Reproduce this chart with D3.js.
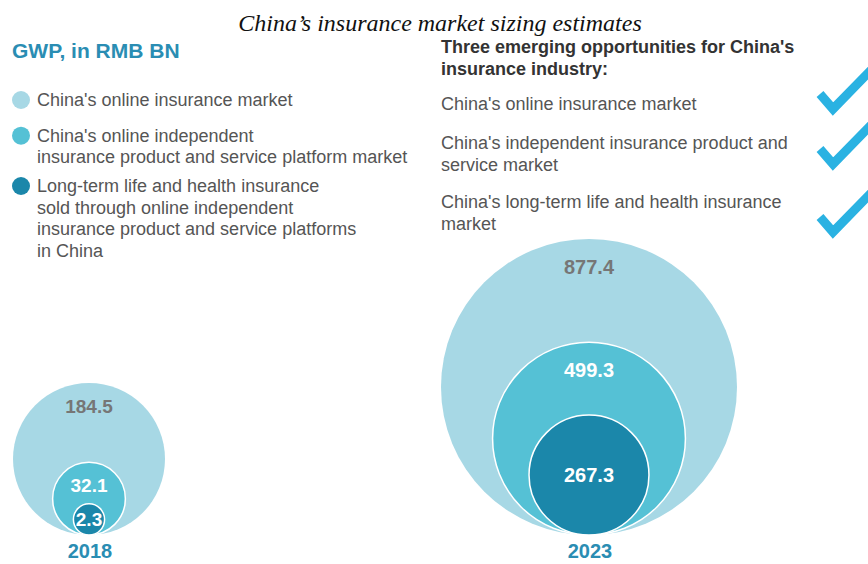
<!DOCTYPE html>
<html lang="en">
<head>
    <meta charset="UTF-8">
    <title>China's insurance market sizing estimates</title>
    <script src="https://cdn.jsdelivr.net/npm/d3@7/dist/d3.min.js"></script>
    <style>
        body { margin: 0; background: #fff; }
        svg { display: block; font-family: 'Liberation Sans', Arial, sans-serif; }
        .legend text, .opps text { fill: #555; font-size: 18px; }
    </style>
</head>
<body>
<script>
    // data
    const years = ['2018', '2023'];
    const values2018 = [184.5, 32.1, 2.3];
    const values2023 = [877.4, 499.3, 267.3];
    const categories = [
        ["China's online insurance market"],
        ["China's online independent", 'insurance product and service platform market'],
        ['Long-term life and health insurance', 'sold through online independent',
         'insurance product and service platforms', 'in China']
    ];
    const opportunities = [
        ["China's online insurance market"],
        ["China's independent insurance product and", 'service market'],
        ["China's long-term life and health insurance", 'market']
    ];

    const width = 868;
    const height = 564;
    const colors = ['#a7d8e5', '#55c1d5', '#1b87aa'];
    const teal = '#2a8db3';

    const svg = d3.select('body')
        .append('svg')
        .attr('width', width)
        .attr('height', height);

    // title
    svg.append('text')
        .attr('x', 440)
        .attr('y', 31)
        .attr('text-anchor', 'middle')
        .style('font-family', "'Liberation Serif', 'Times New Roman', serif")
        .style('font-style', 'italic')
        .style('font-size', '24px')
        .attr('fill', '#111')
        .text('China’s insurance market sizing estimates');

    svg.append('text')
        .attr('x', 12)
        .attr('y', 58)
        .style('font-size', '21px')
        .style('font-weight', 'bold')
        .attr('fill', teal)
        .text('GWP, in RMB BN');

    // legend
    const lineH = 21.7;
    const legendTop = [106, 141.7, 192];
    const legend = svg.append('g').attr('class', 'legend')
        .selectAll('g')
        .data(categories)
        .enter()
        .append('g')
        .attr('transform', (d, i) => `translate(0,${legendTop[i]})`);

    legend.append('circle')
        .attr('cx', 21)
        .attr('cy', -6)
        .attr('r', 9)
        .attr('fill', (d, i) => colors[i]);

    legend.selectAll('text')
        .data(d => d)
        .enter()
        .append('text')
        .attr('x', 37)
        .attr('y', (d, i) => i * lineH)
        .text(d => d);

    // right panel
    const head = svg.append('text')
        .attr('x', 441)
        .attr('y', 53)
        .style('font-size', '18px')
        .style('font-weight', 'bold')
        .attr('fill', '#333');
    head.append('tspan').attr('x', 441).text("Three emerging opportunities for China's");
    head.append('tspan').attr('x', 441).attr('dy', 22).text('insurance industry:');

    const oppTop = [110, 149, 208];
    const checkY = [113, 168, 236];
    const opps = svg.append('g').attr('class', 'opps')
        .selectAll('g')
        .data(opportunities)
        .enter()
        .append('g');

    opps.selectAll('text')
        .data((d, i) => d.map(t => ({ t: t, y: oppTop[i] })))
        .enter()
        .append('text')
        .attr('x', 441)
        .attr('y', (d, i) => d.y + i * lineH)
        .text(d => d.t);

    // check marks
    opps.append('path')
        .attr('d', (d, i) => `M820,${checkY[i] - 19} L833,${checkY[i] - 4} L872,${checkY[i] - 44}`)
        .attr('fill', 'none')
        .attr('stroke', '#2ab2e2')
        .attr('stroke-width', 9)
        .attr('stroke-linejoin', 'miter');

    // nested circles, one group per year
    const yearLayout = [
        { cx: 89, base: 535, rMin: 8, rMax: 76, exp: 0.5, values: values2018, font: 19, pad: 30 },
        { cx: 589, base: 535, rMin: 0, rMax: 148, exp: 0.76, values: values2023, font: 20, pad: 35 }
    ];

    yearLayout.forEach((yl, k) => {
        const r = d3.scalePow()
            .exponent(yl.exp)
            .domain([0, d3.max(yl.values)])
            .range([yl.rMin, yl.rMax]);

        const g = svg.append('g');
        const last = yl.values.length - 1;

        g.selectAll('circle')
            .data(yl.values)
            .enter()
            .append('circle')
            .attr('cx', yl.cx)
            .attr('cy', d => yl.base - r(d))
            .attr('r', d => r(d))
            .attr('fill', (d, i) => colors[i])
            .attr('stroke', (d, i) => i === 0 ? 'none' : '#fff')
            .attr('stroke-width', 1.5);

        g.selectAll('text.val')
            .data(yl.values)
            .enter()
            .append('text')
            .attr('class', 'val')
            .attr('x', yl.cx)
            .attr('y', (d, i) => i === last
                ? yl.base - r(d) + yl.font * 0.36
                : yl.base - 2 * r(d) + yl.pad)
            .attr('text-anchor', 'middle')
            .style('font-size', yl.font + 'px')
            .style('font-weight', 'bold')
            .attr('fill', (d, i) => i === 0 ? '#767676' : '#fff')
            .text(d => d3.format('.1f')(d));

        g.append('text')
            .attr('x', yl.cx + 1)
            .attr('y', 558)
            .attr('text-anchor', 'middle')
            .style('font-size', '20px')
            .style('font-weight', 'bold')
            .attr('fill', teal)
            .text(years[k]);
    });
</script>
</body>
</html>
